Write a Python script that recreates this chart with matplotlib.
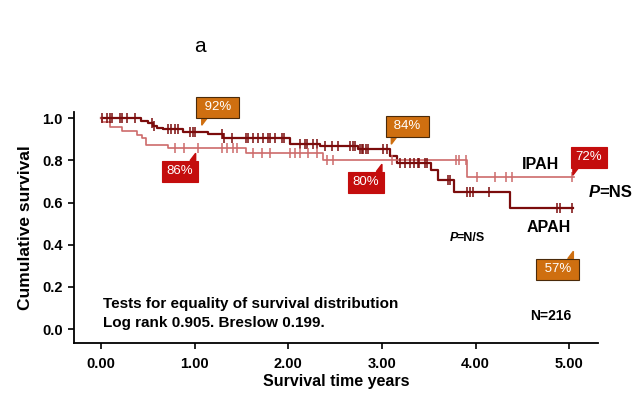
import matplotlib
matplotlib.use("Agg")
import matplotlib.pyplot as plt
import numpy as np

plt.rcParams['font.family'] = ['Liberation Sans', 'DejaVu Sans']

# APAH (dark curve): event times and survival after each step
apah_t = [0.0, 0.43, 0.50, 0.55, 0.60, 0.66, 0.87, 1.14, 1.30, 2.02, 2.34, 2.74, 3.09, 3.16, 3.52, 3.60, 3.77, 4.37]
apah_s = [1.0, 0.987, 0.976, 0.965, 0.955, 0.948, 0.935, 0.924, 0.905, 0.88, 0.867, 0.855, 0.82, 0.79, 0.755, 0.706, 0.65, 0.573]
apah_end = 5.04
apah_cens = [0.01, 0.06, 0.09, 0.12, 0.20, 0.22, 0.28, 0.36, 0.54, 0.57, 0.71, 0.75, 0.79, 0.82,
             0.95, 0.98, 1.00, 1.29, 1.31, 1.40, 1.55, 1.57, 1.62, 1.68, 1.73, 1.78, 1.80, 1.86,
             1.93, 1.95, 2.12, 2.18, 2.20, 2.26, 2.31, 2.39, 2.47, 2.53, 2.66, 2.69, 2.71, 2.77,
             2.79, 2.80, 2.83, 2.85, 3.01, 3.05, 3.19, 3.25, 3.30, 3.34, 3.38, 3.40, 3.46, 3.48,
             3.71, 3.73, 3.91, 3.94, 3.97, 4.14, 4.87, 4.90, 5.03]

# IPAH (light curve)
ipah_t = [0.0, 0.01, 0.09, 0.22, 0.38, 0.44, 0.48, 0.71, 1.55, 2.37, 3.91]
ipah_s = [1.0, 0.98, 0.96, 0.94, 0.92, 0.905, 0.872, 0.858, 0.836, 0.80, 0.72]
ipah_end = 5.05
ipah_cens = [0.79, 0.89, 1.04, 1.29, 1.35, 1.41, 1.45, 1.62, 1.72, 1.80, 2.02, 2.07, 2.12,
             2.21, 2.31, 2.41, 2.48, 3.11, 3.79, 3.82, 3.90, 4.02, 4.21, 4.32, 4.39, 5.03]

# callouts: text, x, y, colour, pointer corner
callouts = [("92%", 1.245, 1.052, 'orange', 'bl'),
            ("84%", 3.27, 0.962, 'orange', 'bl'),
            ("57%", 4.875, 0.284, 'orange', 'tr'),
            ("86%", 0.84, 0.749, 'red', 'tr'),
            ("80%", 2.83, 0.697, 'red', 'tr'),
            ("72%", 5.21, 0.815, 'red', 'bl')]

dark = '#7b0c0c'
light = '#cd6b6b'
box_col = {'orange': '#cf6f10', 'red': '#c40d0d'}


def surv_at(t_list, s_list, t):
    idx = np.searchsorted(t_list, t, side='right') - 1
    return s_list[max(idx, 0)]


fig = plt.figure(figsize=(6.35, 3.95), dpi=100)
ax = fig.add_axes([0.1165, 0.1316, 0.8255, 0.585])

# curves
for t, s, end, cens, col, lw in [(apah_t, apah_s, apah_end, apah_cens, dark, 1.6),
                                 (ipah_t, ipah_s, ipah_end, ipah_cens, light, 1.2)]:
    xs = list(t) + [end]
    ys = list(s) + [s[-1]]
    ax.step(xs, ys, where='post', color=col, lw=lw, zorder=3)
    cy = [surv_at(t, s, c) for c in cens]
    ax.plot(cens, cy, ls='none', marker='|', ms=7.5, mew=1.1, color=col, zorder=4)

ax.set_xlim(-0.29, 5.31)
ax.set_ylim(-0.066, 1.03)
ax.set_xticks([0, 1, 2, 3, 4, 5])
ax.set_xticklabels(['0.00', '1.00', '2.00', '3.00', '4.00', '5.00'])
ax.set_yticks([0, 0.2, 0.4, 0.6, 0.8, 1.0])
ax.set_yticklabels(['0.0', '0.2', '0.4', '0.6', '0.8', '1.0'])
for lab in ax.get_xticklabels() + ax.get_yticklabels():
    lab.set_fontweight('bold')
    lab.set_fontsize(10.5)
ax.tick_params(direction='out', length=4, width=1.2, colors='black', pad=4)
ax.tick_params(axis='x', pad=6)
ax.spines['top'].set_visible(False)
ax.spines['right'].set_visible(False)
ax.spines['left'].set_linewidth(1.3)
ax.spines['bottom'].set_linewidth(1.3)
ax.set_xlabel('Survival time years', fontsize=11.5, fontweight='bold', labelpad=2)
ax.set_ylabel('Cumulative survival', fontsize=12.5, fontweight='bold', labelpad=7)

# callout boxes with pointers
for txt, x, y, c, ptr in callouts:
    label = ' ' + txt + ' ' if c == 'orange' else txt
    ax.text(x, y, label, ha='center', va='center', fontsize=9.5, color='white', clip_on=False,
            zorder=6, bbox=dict(boxstyle='square,pad=0.35', fc=box_col[c],
                                ec='#4a2a0a' if c == 'orange' else box_col[c], lw=0.8))
    if ptr == 'bl':
        px = [x - 0.17, x - 0.11, x - 0.17]
        py = [y - 0.05, y - 0.05, y - 0.085]
    else:
        px = [x + 0.17, x + 0.11, x + 0.17]
        py = [y + 0.05, y + 0.05, y + 0.085]
    ax.fill(px, py, color=box_col[c], clip_on=False, zorder=5)

ax.text(4.69, 0.78, 'IPAH', fontsize=11.5, fontweight='bold', ha='center', va='center')
ax.text(4.78, 0.48, 'APAH', fontsize=11.5, fontweight='bold', ha='center', va='center')
ax.text(5.21, 0.65, 'P', fontsize=12, fontweight='bold', style='italic',
        ha='left', va='center', clip_on=False)
ax.text(5.325, 0.65, '=NS', fontsize=12, fontweight='bold', ha='left', va='center', clip_on=False)
ax.text(3.72, 0.43, 'P', fontsize=9, fontweight='bold', style='italic', ha='left', va='center')
ax.text(3.80, 0.43, '=N/S', fontsize=9, fontweight='bold', ha='left', va='center')
ax.text(0.02, 0.12, 'Tests for equality of survival distribution', fontsize=11,
        fontweight='bold', ha='left', va='center')
ax.text(0.02, 0.03, 'Log rank 0.905. Breslow 0.199.', fontsize=11,
        fontweight='bold', ha='left', va='center')
ax.text(4.8, 0.062, 'N=216', fontsize=10, fontweight='bold', ha='center', va='center')

fig.text(200 / 635, 1 - 46 / 395, 'a', fontsize=15, ha='center', va='center')

fig.savefig('out.png', dpi=100)
